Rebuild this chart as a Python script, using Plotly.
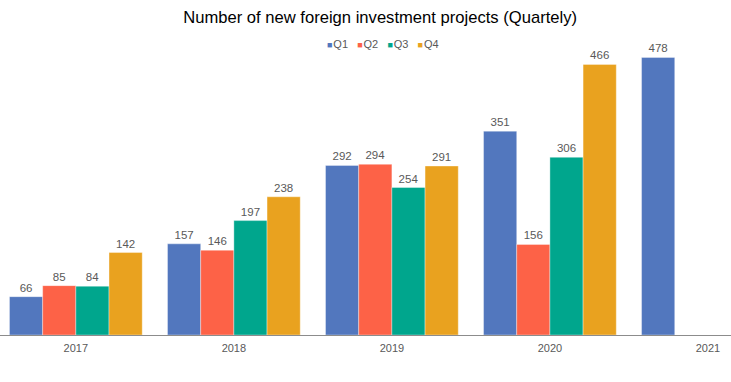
import plotly.graph_objects as go

years = ["2017", "2018", "2019", "2020", "2021"]
q1 = [66, 157, 292, 351, 478]
q2 = [85, 146, 294, 156, None]
q3 = [84, 197, 254, 306, None]
q4 = [142, 238, 291, 466, None]

series = [("Q1", q1, "#5277be"), ("Q2", q2, "#fd6247"),
          ("Q3", q3, "#00a68d"), ("Q4", q4, "#e9a21f")]

fig = go.Figure()
for name, vals, col in series:
    fig.add_trace(go.Bar(
        name=name, x=years, y=vals,
        marker=dict(color=col, line=dict(color="rgba(255,255,255,0.6)", width=0.6)),
        text=[str(v) if v is not None else "" for v in vals],
        textposition="outside",
        textfont=dict(color="#595959", size=11.5),
        cliponaxis=False,
        showlegend=False,
    ))

legend_text = "&nbsp;&nbsp;&nbsp;".join(
    f"<span style='color:{col}; font-size:9px'>■</span>&#8202;{name}" for name, _, col in series
)
fig.add_annotation(text=legend_text, xref="paper", yref="paper", x=0.524, y=0.986,
                   xanchor="center", yanchor="middle", showarrow=False,
                   font=dict(size=11, color="#595959"))

fig.update_layout(
    width=731, height=382,
    margin=dict(l=0, r=0, t=40, b=47),
    barmode="group", bargap=0.16, bargroupgap=0,
    paper_bgcolor="white", plot_bgcolor="white",
    font=dict(family="Liberation Sans, Arial, sans-serif", color="#595959"),
    title=dict(text="Number of new foreign investment projects (Quartely)",
               x=0.52, xanchor="center", y=0.955, yanchor="middle",
               font=dict(size=16.6, color="#000000")),
    xaxis=dict(type="category", range=[-0.48, 4.146], showline=True,
               linecolor="#8c8c8c", linewidth=1, ticks="outside", ticklen=3,
               tickcolor="rgba(0,0,0,0)",
               tickfont=dict(size=11, color="#595959"), showgrid=False),
    yaxis=dict(range=[0, 508], visible=False, showgrid=False),
)

fig.write_html("out.html", config={"displayModeBar": False},
               post_script="document.body.style.margin='0';document.body.style.overflow='hidden';")
